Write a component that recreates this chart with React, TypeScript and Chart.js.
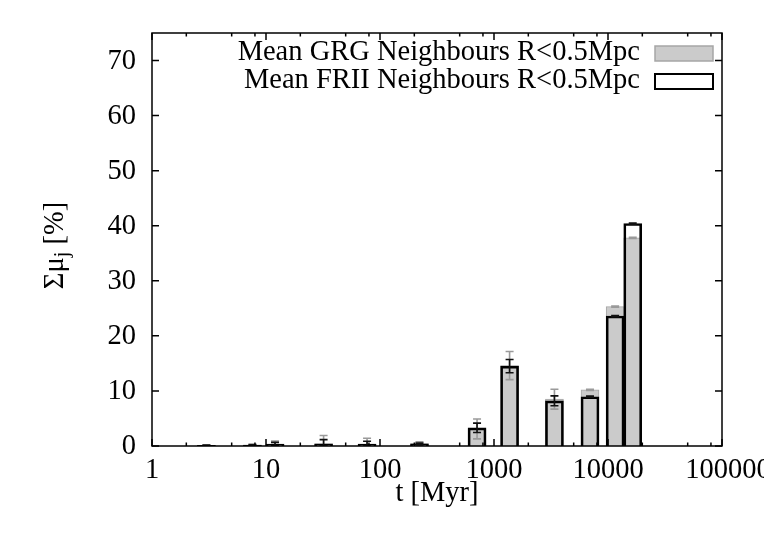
import { useEffect, useRef } from "react"
import { Chart, registerables } from "chart.js"

Chart.register(...registerables)

// bin centres (Myr) and mean contributions (%)
const ages = [3.0, 7.6, 12, 32, 77, 222, 710, 1370, 3390, 6950, 11550, 16480]
const grgMean = [0.1, 0.15, 0.3, 0.4, 0.35, 0.45, 3.1, 14.6, 8.5, 10.2, 25.3, 37.8]
const grgErr = [0.05, 0.1, 0.6, 1.5, 1.05, 0.3, 1.8, 2.55, 1.8, 0.1, 0.1, 0.1]
const friiMean = [0.1, 0.15, 0.35, 0.4, 0.35, 0.4, 3.3, 14.5, 8.2, 8.95, 23.6, 40.4]
const friiErr = [0.05, 0.1, 0.3, 0.75, 0.5, 0.15, 0.85, 1.2, 0.9, 0.1, 0.1, 0.1]

const xMajor = [1, 10, 100, 1000, 10000, 100000]
const xMinorSteps = [2, 5, 8]
const yTicks = [0, 10, 20, 30, 40, 50, 60, 70]

const legendLabels = ["Mean GRG Neighbours R<0.5Mpc", "Mean FRII Neighbours R<0.5Mpc"]

const FONT = "Liberation Serif, Times New Roman, serif"
const FS = 28.5
const GREY_FILL = "#cbcbcb"
const GREY_LINE = "#a6a6a6"

const errorBars = {
  id: "errorBars",
  afterDatasetDraw(chart: Chart, args: { index: number }) {
    const { ctx, chartArea } = chart
    const x = chart.scales.x
    const y = chart.scales.y
    const isGrg = args.index === 1
    const means = isGrg ? grgMean : friiMean
    const errs = isGrg ? grgErr : friiErr
    ctx.save()
    ctx.beginPath()
    ctx.rect(chartArea.left, chartArea.top, chartArea.width, chartArea.height)
    ctx.clip()
    ctx.strokeStyle = isGrg ? "#9a9a9a" : "#111"
    ctx.lineWidth = 1.6
    ages.forEach((a, i) => {
      const px = x.getPixelForValue(a)
      const hi = y.getPixelForValue(means[i] + errs[i])
      const lo = y.getPixelForValue(Math.max(0, means[i] - errs[i]))
      ctx.beginPath()
      ctx.moveTo(px, hi)
      ctx.lineTo(px, lo)
      ctx.moveTo(px - 4, hi)
      ctx.lineTo(px + 4, hi)
      ctx.moveTo(px - 4, lo)
      ctx.lineTo(px + 4, lo)
      ctx.stroke()
    })
    ctx.restore()
  },
}

const frame = {
  id: "frame",
  afterDraw(chart: Chart) {
    const { ctx, chartArea: ca } = chart
    const x = chart.scales.x
    const y = chart.scales.y
    ctx.save()
    ctx.strokeStyle = "#000"
    ctx.lineWidth = 1.5
    ctx.strokeRect(ca.left, ca.top, ca.width, ca.height)

    const major = 7
    const minor = 3.5
    ctx.beginPath()
    yTicks.forEach((v) => {
      const py = y.getPixelForValue(v)
      ctx.moveTo(ca.left, py)
      ctx.lineTo(ca.left + major, py)
      ctx.moveTo(ca.right, py)
      ctx.lineTo(ca.right - major, py)
    })
    xMajor.forEach((v, k) => {
      const px = x.getPixelForValue(v)
      ctx.moveTo(px, ca.bottom)
      ctx.lineTo(px, ca.bottom - major)
      ctx.moveTo(px, ca.top)
      ctx.lineTo(px, ca.top + major)
      if (k < xMajor.length - 1) {
        xMinorSteps.forEach((m) => {
          const pm = x.getPixelForValue(v * m)
          ctx.moveTo(pm, ca.bottom)
          ctx.lineTo(pm, ca.bottom - minor)
          ctx.moveTo(pm, ca.top)
          ctx.lineTo(pm, ca.top + minor)
        })
      }
    })
    ctx.stroke()

    ctx.fillStyle = "#000"
    ctx.font = `${FS}px ${FONT}`
    ctx.textBaseline = "middle"
    ctx.textAlign = "right"
    yTicks.forEach((v) => ctx.fillText(String(v), ca.left - 16, y.getPixelForValue(v) + 1))
    ctx.textAlign = "center"
    xMajor.forEach((v, k) =>
      ctx.fillText(String(v), x.getPixelForValue(v) + (k === xMajor.length - 1 ? 6 : 0), ca.bottom + 25)
    )

    // axis titles
    ctx.fillText("t [Myr]", (ca.left + ca.right) / 2, ca.bottom + 48)
    ctx.save()
    ctx.translate(56, (ca.top + ca.bottom) / 2 + 6)
    ctx.rotate(-Math.PI / 2)
    ctx.textAlign = "left"
    const p1 = "Σμ"
    const p3 = " [%]"
    ctx.font = `${FS}px ${FONT}`
    const w1 = ctx.measureText(p1).width
    const w3 = ctx.measureText(p3).width
    ctx.font = `20px ${FONT}`
    const w2 = ctx.measureText("j").width
    const start = -(w1 + w2 + w3) / 2
    ctx.font = `${FS}px ${FONT}`
    ctx.fillText(p1, start, 0)
    ctx.font = `20px ${FONT}`
    ctx.fillText("j", start + w1, 7)
    ctx.font = `${FS}px ${FONT}`
    ctx.fillText(p3, start + w1 + w2, 0)
    ctx.restore()

    // key
    ctx.font = `${FS}px ${FONT}`
    ctx.textAlign = "right"
    const rows = [ca.top + 20, ca.top + 48]
    legendLabels.forEach((t, i) => {
      const cy = rows[i]
      ctx.fillStyle = "#000"
      ctx.fillText(t, ca.right - 82, cy)
      if (i === 0) {
        ctx.fillStyle = GREY_FILL
        ctx.fillRect(ca.right - 67, cy - 7, 58, 15)
        ctx.strokeStyle = GREY_LINE
        ctx.lineWidth = 1.5
        ctx.strokeRect(ca.right - 67, cy - 7, 58, 15)
      } else {
        ctx.strokeStyle = "#000"
        ctx.lineWidth = 2
        ctx.strokeRect(ca.right - 67, cy - 7, 58, 15)
      }
    })
    ctx.restore()
  },
}

export default function App() {
  const canvasRef = useRef<HTMLCanvasElement>(null)
  const chartRef = useRef<Chart | null>(null)

  useEffect(() => {
    if (!canvasRef.current) return
    if (chartRef.current) chartRef.current.destroy()

    chartRef.current = new Chart(canvasRef.current, {
      type: "bar",
      data: {
        datasets: [
          {
            label: legendLabels[1],
            data: ages.map((a, i) => ({ x: a, y: friiMean[i] })),
            backgroundColor: "rgba(0,0,0,0)",
            borderColor: "#000",
            borderWidth: 2,
            barThickness: 18,
            grouped: false,
          },
          {
            label: legendLabels[0],
            data: ages.map((a, i) => ({ x: a, y: grgMean[i] })),
            backgroundColor: GREY_FILL,
            borderColor: GREY_LINE,
            borderWidth: 1,
            barThickness: 18,
            grouped: false,
          },
        ],
      },
      options: {
        animation: false,
        responsive: true,
        maintainAspectRatio: false,
        layout: { padding: { left: 152, top: 33, right: 42, bottom: 89 } },
        scales: {
          x: { type: "logarithmic", min: 1, max: 100000, offset: false, display: false },
          y: { min: 0, max: 75, display: false },
        },
        plugins: {
          legend: { display: false },
          tooltip: { enabled: false },
        },
      },
      plugins: [errorBars, frame],
    })

    return () => {
      if (chartRef.current) {
        chartRef.current.destroy()
        chartRef.current = null
      }
    }
  }, [])

  return (
    <div style={{ position: "fixed", left: 0, top: 0, width: 764, height: 535, background: "#fff" }}>
      <canvas ref={canvasRef} />
    </div>
  )
}
